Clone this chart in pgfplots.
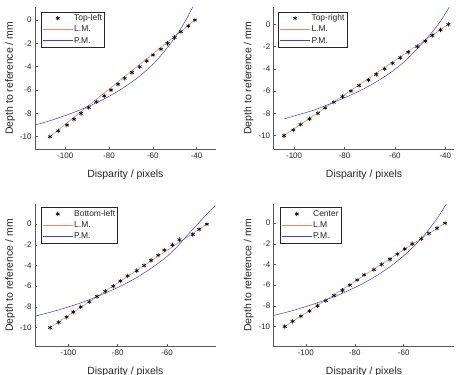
\documentclass[border=0pt]{standalone}
\usepackage{fontspec}
\setmainfont{Liberation Sans}
\usepackage{pgfplots}
\pgfplotsset{compat=1.18}
\definecolor{lmcol}{HTML}{EE8A5C}
\definecolor{pmcol}{HTML}{3C3CFF}
\definecolor{axgray}{HTML}{262626}

\pgfplotsset{
  panel/.style={
    scale only axis, width=180.7bp, height=142.2bp, anchor=south west,
    axis x line*=bottom, axis y line*=left,
    axis line style={black!65, line width=0.5bp},
    tick style={black!65, line width=0.5bp},
    tick align=inside, major tick length=2.5bp,
    ytick={-10,-8,...,0},
    /pgf/number format/assume math mode=true,
    tick label style={font=\fontsize{8}{9}\selectfont, text=axgray},
    xlabel={Disparity / pixels}, ylabel={Depth to reference / mm},
    label style={font=\fontsize{10.5}{12}\selectfont, text=axgray},
    xlabel style={at={(axis description cs:0.5,-0.176)}, anchor=center},
    ylabel style={at={(axis description cs:-0.138,0.5)}, anchor=center},
    legend cell align=left,
    legend style={anchor=north west, draw=axgray, line width=0.4bp, fill=white,
      font=\fontsize{8.5}{10}\selectfont, text=axgray,
      inner xsep=1.5bp, inner ysep=1.2bp, row sep=1.2bp,
      nodes={inner sep=1bp, text height=6.3bp, text depth=1.8bp}},
  },
  stars/.style={only marks, mark=asterisk, mark size=2.2bp, black,
    mark options={line width=0.6bp},
    legend image code/.code={\draw[mark repeat=2,mark phase=2,##1,draw=black]
      plot coordinates {(0bp,0bp) (15bp,0bp) (30bp,0bp)};}},
  lm/.style={lmcol, line width=0.6bp, no markers,
    legend image code/.code={\draw[draw=lmcol, line width=0.8bp]
      (0bp,0bp) -- (30bp,0bp);}},
  pm/.style={pmcol, line width=0.5bp, no markers, smooth,
    legend image code/.code={\draw[draw=pmcol, line width=0.8bp]
      (0bp,0bp) -- (30bp,0bp);}},
}

\begin{document}
\begin{tikzpicture}
\useasboundingbox (0,0) rectangle (457bp,375bp);

% top left
\begin{axis}[panel, at={(35bp,225.7bp)},
  xmin=-113.8, xmax=-31.3, ymin=-11.08, ymax=1.11,
  xtick={-100,-80,-60,-40},
  legend style={at={(axis description cs:0.0315,0.967)}}]
\addplot[stars] coordinates {(-107.0,-10) (-103.2,-9.5) (-99.2,-9) (-96.0,-8.5)
  (-92.8,-8) (-89.3,-7.5) (-85.8,-7) (-82.2,-6.5) (-79.1,-6) (-75.9,-5.5)
  (-72.9,-5) (-69.5,-4.5) (-66.0,-4) (-62.8,-3.5) (-59.9,-3) (-56.3,-2.5)
  (-53.3,-2) (-50.1,-1.5) (-47.2,-1) (-43.8,-0.5) (-40.8,0)};
\addlegendentry{Top-left}
\addplot[lm] coordinates {(-107.0,-10) (-40.8,0)};
\addlegendentry{L.M.}
\addplot[pm] coordinates {(-113.8,-9.00) (-108,-8.69) (-102,-8.32) (-96,-7.91)
  (-90,-7.45) (-84,-6.93) (-78,-6.33) (-72,-5.63) (-66,-4.80) (-60,-3.80)
  (-55,-2.74) (-50,-1.51) (-46,-0.35) (-42,1.03) (-40.5,1.62)};
\addlegendentry{P.M.}
\end{axis}

% top right
\begin{axis}[panel, at={(273.7bp,225.7bp)},
  xmin=-108.1, xmax=-36.4, ymin=-11.23, ymax=1.55,
  xtick={-100,-80,-60,-40},
  legend style={at={(axis description cs:0.024,0.967)}}]
\addplot[stars] coordinates {(-104.0,-10) (-100.3,-9.5) (-97.4,-9) (-93.9,-8.5)
  (-90.6,-8) (-87.7,-7.5) (-84.2,-7) (-80.8,-6.5) (-77.5,-6) (-74.2,-5.5)
  (-70.5,-5) (-67.4,-4.5) (-64.1,-4) (-60.9,-3.5) (-57.9,-3) (-54.7,-2.5)
  (-51.1,-2) (-47.9,-1.5) (-45.2,-1) (-41.9,-0.5) (-38.8,0)};
\addlegendentry{Top-right}
\addplot[lm] coordinates {(-104.0,-10) (-38.8,0)};
\addlegendentry{L.M.}
\addplot[pm] coordinates {(-104.0,-8.50) (-98,-8.10) (-92,-7.70) (-86,-7.16)
  (-80,-6.60) (-74,-5.98) (-68,-5.25) (-62,-4.38) (-56,-3.30) (-50,-1.90)
  (-46,-0.90) (-42,0.25) (-38.5,1.53) (-37,2.10)};
\addlegendentry{P.M.}
\end{axis}

% bottom left
\begin{axis}[panel, at={(35bp,28.3bp)},
  xmin=-113.5, xmax=-40.3, ymin=-11.85, ymax=1.9,
  xtick={-100,-80,-60},
  legend style={at={(axis description cs:0.0315,0.979)}}]
\addplot[stars] coordinates {(-107.4,-10) (-103.9,-9.5) (-100.7,-9) (-98.0,-8.5)
  (-95.0,-8) (-91.5,-7.5) (-88.4,-7) (-85.0,-6.5) (-81.8,-6) (-78.9,-5.5)
  (-76.0,-5) (-72.3,-4.5) (-69.3,-4) (-66.5,-3.5) (-63.6,-3) (-61.1,-2.5)
  (-57.8,-2) (-55.0,-1.5) (-49.6,-1) (-47.0,-0.5) (-43.9,0)};
\addlegendentry{Bottom-left}
\addplot[lm] coordinates {(-107.4,-10) (-43.9,0)};
\addlegendentry{L.M.}
\addplot[pm] coordinates {(-113.5,-8.90) (-107,-8.50) (-101,-8.08) (-95,-7.62)
  (-89.5,-7.11) (-84,-6.55) (-78,-5.90) (-72,-5.12) (-66,-4.20) (-60,-3.12)
  (-56.5,-2.33) (-53.6,-1.55) (-50,-0.62) (-45.5,0.55) (-40.5,1.81)};
\addlegendentry{P.M.}
\end{axis}

% bottom right
\begin{axis}[panel, at={(273.7bp,28.3bp)},
  xmin=-113.1, xmax=-39.3, ymin=-11.95, ymax=1.8,
  xtick={-100,-80,-60},
  legend style={at={(axis description cs:0.033,0.979)}}]
\addplot[stars] coordinates {(-108.6,-10) (-105.4,-9.5) (-102.0,-9) (-98.5,-8.5)
  (-95.2,-8) (-91.8,-7.5) (-88.4,-7) (-85.0,-6.5) (-82.0,-6) (-79.0,-5.5)
  (-76.2,-5) (-72.2,-4.5) (-69.0,-4) (-65.6,-3.5) (-62.6,-3) (-59.6,-2.5)
  (-56.5,-2) (-52.8,-1.5) (-49.7,-1) (-46.4,-0.5) (-43.1,0)};
\addlegendentry{Center}
\addplot[lm] coordinates {(-108.6,-10) (-43.1,0)};
\addlegendentry{L.M}
\addplot[pm] coordinates {(-113.1,-8.93) (-107,-8.56) (-101,-8.15) (-95,-7.69)
  (-89,-7.17) (-83,-6.57) (-77,-5.88) (-71,-5.07) (-65,-4.11) (-60,-3.16)
  (-55,-2.04) (-51,-0.99) (-47,0.24) (-44,1.31) (-42.3,1.99)};
\addlegendentry{P.M.}
\end{axis}
\end{tikzpicture}
\end{document}
